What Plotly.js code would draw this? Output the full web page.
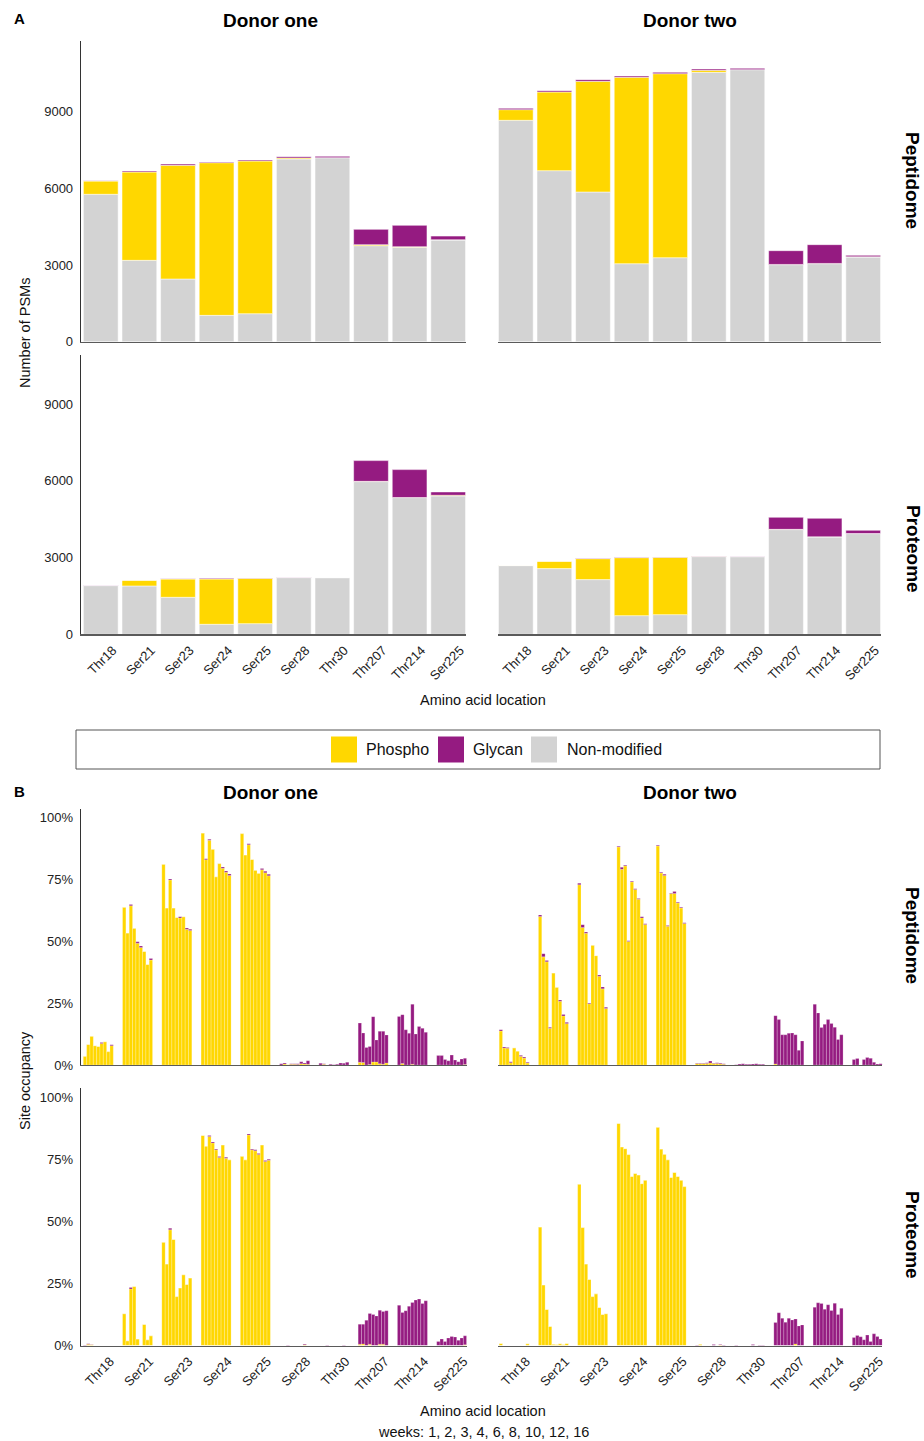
<!DOCTYPE html>
<html>
<head>
<meta charset="utf-8">
<script src="https://cdn.plot.ly/plotly-3.0.1.min.js"></script>
<style>
  html, body { margin: 0; padding: 0; background: #ffffff; }
  #chart { width: 924px; height: 1441px; }
</style>
</head>
<body>
<div id="chart"></div>
<script>
// Amino acid sites and sampling weeks
const sites = ['Thr18', 'Ser21', 'Ser23', 'Ser24', 'Ser25', 'Ser28', 'Thr30', 'Thr207', 'Thr214', 'Ser225'];
const weeks = [1, 2, 3, 4, 6, 8, 10, 12, 16];
const seriesNames = ['Phospho', 'Glycan', 'Non-modified'];

// A: number of PSMs per site
const d1PepNonmod  = [5765, 3182, 2452, 1030, 1095, 7146, 7198, 3756, 3690, 3977];
const d1PepPhospho = [521, 3455, 4446, 5972, 5973, 39, 0, 39, 26, 10];
const d1PepGlycan  = [10, 40, 52, 27, 39, 52, 52, 599, 835, 144];

const d2PepNonmod  = [8659, 6690, 5855, 3051, 3286, 10536, 10641, 3012, 3051, 3312];
const d2PepPhospho = [417, 3077, 4329, 7290, 7198, 78, 0, 10, 10, 10];
const d2PepGlycan  = [52, 52, 66, 52, 53, 53, 52, 538, 734, 55];

const d1ProtNonmod  = [1904, 1891, 1447, 391, 417, 2217, 2217, 5972, 5346, 5412];
const d1ProtPhospho = [5, 222, 718, 1774, 1774, 5, 0, 10, 5, 26];
const d1ProtGlycan  = [5, 5, 10, 26, 10, 5, 5, 812, 1091, 130];

const d2ProtNonmod  = [2686, 2569, 2139, 730, 769, 3038, 3038, 4095, 3808, 3938];
const d2ProtPhospho = [5, 287, 821, 2269, 2243, 10, 0, 10, 5, 5];
const d2ProtGlycan  = [5, 5, 10, 10, 10, 5, 10, 472, 725, 125];

// B: site occupancy (%) per site (rows) and week (columns)
const d1PepOccPhospho = [
  [3.5, 8.3, 11.6, 7.8, 7.5, 8.7, 9.4, 5.4, 7.8],
  [63.6, 53.2, 64.2, 55.1, 49.1, 47.4, 45.8, 40.5, 42.3],
  [80.9, 63.3, 74.6, 63.3, 59.5, 59.3, 59.8, 54.7, 54.2],
  [93.5, 82.8, 90.6, 87.0, 75.9, 81.2, 79.3, 77.7, 76.4],
  [93.3, 84.7, 88.8, 82.9, 78.5, 77.3, 78.7, 77.5, 76.3],
  [0, 0.4, 0.1, 0.3, 0.3, 0.2, 0.5, 0.4, 0.3],
  [0, 0.3, 0, 0, 0, 0, 0, 0, 0],
  [1.1, 1.0, 0, 0.2, 1.2, 1.2, 0.5, 0.3, 0.8],
  [0, 0.6, 0, 0, 0.3, 0, 0, 0, 0],
  [0, 0, 0, 0, 0, 0, 0, 0, 0.2]
];
const d1PepOccGlycan = [
  [0, 0, 0, 0, 0, 0.4, 0, 0, 0.4],
  [0, 0, 0.5, 0, 0.6, 0.6, 0, 0, 0.6],
  [0, 0, 0.4, 0, 0, 0.5, 0, 0.5, 0.5],
  [0, 0.4, 0.4, 0, 0, 0, 0.5, 0.5, 0.6],
  [0, 0, 0.4, 0, 0, 0, 0.5, 0.6, 0.6],
  [0.5, 0.4, 0, 0.2, 0.2, 0.3, 0.8, 0.4, 1.4],
  [0.7, 0.2, 0, 0.3, 0.1, 0.3, 0.8, 0.7, 1.1],
  [15.8, 11.9, 7.1, 7.3, 18.3, 8.9, 13.1, 13.3, 11.3],
  [19.6, 19.7, 14.2, 12.8, 24.2, 12.5, 15.5, 14.8, 13.2],
  [3.8, 3.8, 2.2, 1.7, 4.0, 2.0, 1.3, 2.4, 2.5]
];

const d2PepOccPhospho = [
  [13.7, 6.9, 6.8, 0.9, 6.9, 5.6, 3.5, 2.8, 0.8],
  [59.9, 43.6, 41.6, 14.8, 37.1, 31.3, 25.7, 19.8, 16.7],
  [72.7, 55.4, 53.1, 24.7, 48.3, 44.1, 35.8, 30.7, 22.8],
  [87.9, 78.9, 80.3, 49.8, 73.8, 70.8, 66.8, 59.3, 56.7],
  [88.3, 77.4, 76.4, 55.9, 69.1, 69.2, 65.3, 63.3, 57.1],
  [0.6, 0.6, 0.6, 0.6, 0.8, 0.6, 0.6, 0.5, 0.3],
  [0, 0, 0, 0, 0, 0, 0, 0, 0],
  [0.4, 0, 0, 0, 0, 0, 0, 0, 0],
  [0, 0, 0, 0, 0, 0, 0, 0, 0],
  [0, 0, 0, 0, 0, 0, 0, 0, 0]
];
const d2PepOccGlycan = [
  [0.5, 0.4, 0.3, 0.4, 0, 0, 0.4, 0.4, 0.3],
  [0.6, 1.3, 0.5, 0.4, 0, 0, 0.5, 0.6, 0.5],
  [0.6, 1.2, 0.5, 0.3, 0, 0, 0.5, 0.8, 0.5],
  [0.3, 0.8, 0.3, 0.3, 0.3, 0.3, 0.3, 0.5, 0.3],
  [0.3, 0.3, 0.5, 0.3, 0.3, 0.8, 0.3, 0.3, 0.3],
  [0.2, 0.2, 0.2, 0.3, 0.8, 0.2, 0.3, 0.3, 0.2],
  [0.1, 0.4, 0.5, 0.3, 0.3, 0.4, 0.5, 0.3, 0.3],
  [19.5, 18.3, 12.2, 12.2, 12.8, 12.9, 12.2, 5.9, 9.7],
  [24.5, 21.0, 15.1, 16.4, 18.3, 16.7, 15.2, 10.3, 12.2],
  [2.2, 2.6, 0, 2.2, 3.0, 2.7, 1.1, 0.4, 0.5]
];

const d1ProtOccPhospho = [
  [0, 0.5, 0.3, 0, 0, 0, 0, 0, 0],
  [12.8, 1.9, 22.8, 23.8, 2.6, 0, 8.5, 2.3, 3.9],
  [41.6, 32.8, 46.6, 42.7, 19.7, 23.2, 28.5, 24.6, 27.2],
  [84.6, 80.3, 84.2, 81.6, 78.8, 75.7, 80.8, 75.4, 74.8],
  [76.2, 74.8, 84.8, 78.8, 78.4, 76.9, 80.8, 74.1, 74.6],
  [0, 0, 0, 0, 0, 0, 0, 0.3, 0],
  [0, 0, 0, 0, 0, 0, 0, 0, 0],
  [0.5, 0.6, 0, 0.5, 0, 0, 0.5, 0.5, 0],
  [0, 0, 0, 0, 0, 0, 0, 0, 0],
  [0, 0, 0, 0, 0, 0, 0, 0, 0.3]
];
const d1ProtOccGlycan = [
  [0.2, 0.2, 0.1, 0, 0, 0, 0, 0, 0],
  [0, 0, 0.6, 0, 0, 0, 0, 0, 0],
  [0, 0, 0.6, 0, 0, 0, 0, 0, 0],
  [0, 0, 0.4, 0.4, 0.4, 0.4, 0, 0.4, 0],
  [0, 0, 0.4, 0.4, 0.4, 0.4, 0, 0.4, 0.4],
  [0, 0, 0.2, 0, 0, 0, 0, 0.3, 0],
  [0, 0, 0.2, 0, 0, 0, 0, 0.2, 0],
  [8.1, 8.0, 10.2, 12.4, 12.5, 11.9, 13.7, 13.2, 14.0],
  [16.2, 13.3, 14.0, 15.8, 17.3, 18.3, 18.7, 16.9, 18.0],
  [1.6, 2.6, 1.6, 3.0, 3.6, 3.4, 2.1, 3.0, 3.6]
];

const d2ProtOccPhospho = [
  [0.8, 0, 0, 0, 0, 0, 0, 0, 0.7],
  [47.7, 24.4, 14.5, 7.7, 0.5, 0.4, 0.7, 0.4, 0.8],
  [65.0, 47.5, 32.8, 26.6, 19.7, 20.8, 15.3, 12.5, 12.8],
  [89.4, 80.0, 79.3, 76.9, 68.1, 69.3, 68.7, 65.2, 66.6],
  [87.9, 79.1, 77.0, 74.8, 67.7, 69.7, 68.1, 66.6, 64.0],
  [0, 0.5, 0, 0, 0, 0, 0, 0.2, 0],
  [0, 0, 0, 0, 0, 0, 0, 0, 0],
  [0, 0, 0, 0, 0, 0, 0.6, 0, 0],
  [0, 0, 0, 0, 0, 0, 0, 0, 0],
  [0, 0, 0, 0, 0, 0, 0, 0, 0]
];
const d2ProtOccGlycan = [
  [0, 0, 0, 0, 0, 0, 0, 0, 0],
  [0, 0, 0, 0, 0, 0, 0, 0, 0],
  [0, 0, 0, 0, 0, 0, 0, 0, 0],
  [0, 0, 0, 0, 0, 0, 0, 0, 0],
  [0, 0, 0, 0, 0, 0, 0, 0, 0],
  [0.2, 0, 0, 0, 0, 0.4, 0, 0.2, 0.2],
  [0.2, 0, 0, 0, 0, 0.4, 0, 0.2, 0.2],
  [9.3, 13.2, 11.0, 9.4, 11.0, 10.3, 10.1, 7.9, 8.3],
  [15.4, 17.2, 16.9, 14.6, 16.4, 14.1, 17.0, 12.5, 15.0],
  [3.2, 4.0, 3.5, 2.3, 4.2, 1.6, 4.7, 3.6, 2.6]
];

// ---------- drawing ----------
const COLORS = { 'Phospho': '#FFD700', 'Glycan': '#951B81', 'Non-modified': '#D3D3D3' };
const FONT = 'Liberation Sans, Arial, Helvetica, sans-serif';
const W = 924, H = 1441;
const fx = p => p / W;          // pixel -> paper x
const fy = p => 1 - p / H;      // pixel -> paper y

const traces = [];

// Panel A: stacked PSM counts (grey at bottom, phospho, then glycan)
const countFacets = [
  { ax: '',  non: d1PepNonmod,  pho: d1PepPhospho,  gly: d1PepGlycan },
  { ax: '2', non: d2PepNonmod,  pho: d2PepPhospho,  gly: d2PepGlycan },
  { ax: '3', non: d1ProtNonmod, pho: d1ProtPhospho, gly: d1ProtGlycan },
  { ax: '4', non: d2ProtNonmod, pho: d2ProtPhospho, gly: d2ProtGlycan }
];
countFacets.forEach(f => {
  const layers = [
    { name: 'Non-modified', vals: f.non, base: f.non.map(() => 0) },
    { name: 'Phospho', vals: f.pho, base: f.non.slice() },
    { name: 'Glycan', vals: f.gly, base: f.non.map((v, i) => v + f.pho[i]) }
  ];
  layers.forEach(l => {
    traces.push({
      type: 'bar', x: sites, y: l.vals, base: l.base, name: l.name,
      xaxis: 'x' + f.ax, yaxis: 'y' + f.ax, width: 0.9,
      marker: { color: COLORS[l.name], line: { color: 'rgba(255,255,255,0.85)', width: 0.6 } },
      showlegend: false, hoverinfo: 'x+y+name'
    });
  });
});

// Panel B: one bar per week inside each site group, glycan stacked on phospho
const occFacets = [
  { ax: '5', pho: d1PepOccPhospho,  gly: d1PepOccGlycan },
  { ax: '6', pho: d2PepOccPhospho,  gly: d2PepOccGlycan },
  { ax: '7', pho: d1ProtOccPhospho, gly: d1ProtOccGlycan },
  { ax: '8', pho: d2ProtOccPhospho, gly: d2ProtOccGlycan }
];
const groupWidth = 0.764;
const barW = groupWidth / weeks.length;
occFacets.forEach(f => {
  weeks.forEach((wk, w) => {
    const pho = f.pho.map(row => row[w]);
    const gly = f.gly.map(row => row[w]);
    const off = -groupWidth / 2 + w * barW;
    traces.push({
      type: 'bar', x: sites, y: pho, base: pho.map(() => 0), name: 'Phospho, week ' + wk,
      xaxis: 'x' + f.ax, yaxis: 'y' + f.ax, width: barW, offset: off,
      marker: { color: COLORS['Phospho'], line: { color: 'rgba(255,255,255,0.55)', width: 0.4 } },
      showlegend: false, hoverinfo: 'x+y+name'
    });
    traces.push({
      type: 'bar', x: sites, y: gly, base: pho, name: 'Glycan, week ' + wk,
      xaxis: 'x' + f.ax, yaxis: 'y' + f.ax, width: barW, offset: off,
      marker: { color: COLORS['Glycan'], line: { color: 'rgba(255,255,255,0.55)', width: 0.4 } },
      showlegend: false, hoverinfo: 'x+y+name'
    });
  });
});

// axes
const tickFont = { family: FONT, size: 13, color: '#222' };
function xAx(d0, d1, r0, r1, anchor, labels) {
  return {
    domain: [fx(d0), fx(d1)], range: [r0, r1], type: 'category', anchor: anchor,
    showgrid: false, zeroline: false, showline: true, linecolor: '#5a5a5a', linewidth: 1.3,
    ticks: '', showticklabels: labels, tickangle: -45, tickfont: tickFont,
    ticklabelshift: 12, ticklabelstandoff: 2, fixedrange: true
  };
}
function yAx(top, bottom, max, tv, tt, anchor, left) {
  return {
    domain: [fy(bottom), fy(top)], range: [0, max], anchor: anchor,
    showgrid: false, zeroline: false, showline: left, linecolor: '#333', linewidth: 1,
    ticks: '', showticklabels: left, tickvals: tv, ticktext: tt, tickfont: tickFont,
    ticklabelstandoff: 4, fixedrange: true
  };
}
const cntTicks = [0, 3000, 6000, 9000];
const cntText = cntTicks.map(String);
const occTicks = [0, 25, 50, 75, 100];
const occText = occTicks.map(v => v + '%');

const layout = {
  width: W, height: H, margin: { l: 0, r: 0, t: 0, b: 0 },
  paper_bgcolor: '#ffffff', plot_bgcolor: 'rgba(0,0,0,0)',
  barmode: 'overlay', showlegend: false,
  font: { family: FONT, color: '#111' },

  xaxis:  xAx(80.7, 465.7, -0.52, 9.453, 'y', false),
  xaxis2: xAx(498.3, 880.7, -0.453, 9.453, 'y2', false),
  xaxis3: xAx(80.7, 465.7, -0.52, 9.453, 'y3', true),
  xaxis4: xAx(498.3, 880.7, -0.453, 9.453, 'y4', true),
  yaxis:  yAx(40.7, 341.7, 11773, cntTicks, cntText, 'x', true),
  yaxis2: yAx(40.7, 341.7, 11773, cntTicks, cntText, 'x2', false),
  yaxis3: yAx(355, 634.3, 10925, cntTicks, cntText, 'x3', true),
  yaxis4: yAx(355, 634.3, 10925, cntTicks, cntText, 'x4', false),

  xaxis5: xAx(80.7, 466.7, -0.448, 9.382, 'y5', false),
  xaxis6: xAx(498.3, 882.3, -0.405, 9.382, 'y6', false),
  xaxis7: xAx(80.7, 466.7, -0.448, 9.382, 'y7', true),
  xaxis8: xAx(498.3, 882.3, -0.405, 9.382, 'y8', true),
  yaxis5: yAx(809.3, 1065, 103.1, occTicks, occText, 'x5', true),
  yaxis6: yAx(809.3, 1065, 103.1, occTicks, occText, 'x6', false),
  yaxis7: yAx(1088.3, 1345.5, 103.6, occTicks, occText, 'x7', true),
  yaxis8: yAx(1088.3, 1345.5, 103.6, occTicks, occText, 'x8', false)
};

// text
const ann = [];
function txt(t, x, y, opt) {
  ann.push(Object.assign({
    text: t, x: fx(x), y: fy(y), xref: 'paper', yref: 'paper', showarrow: false,
    xanchor: 'center', yanchor: 'middle',
    font: { family: FONT, size: 14.5, color: '#111' }
  }, opt || {}));
}
const bold = s => ({ family: FONT, size: s, color: '#000', weight: 'bold' });

txt('<b>A</b>', 12, 19, { xanchor: 'left', font: bold(15) });
txt('<b>B</b>', 12, 791, { xanchor: 'left', font: bold(15) });
[20, 792].forEach(y => {
  txt('<b>Donor one</b>', 270, y, { font: bold(19) });
  txt('<b>Donor two</b>', 690, y, { font: bold(19) });
});
txt('<b>Peptidome</b>', 913, 180, { textangle: 90, font: bold(19) });
txt('<b>Proteome</b>', 913, 549, { textangle: 90, font: bold(19) });
txt('<b>Peptidome</b>', 913, 935, { textangle: 90, font: bold(19) });
txt('<b>Proteome</b>', 913, 1235, { textangle: 90, font: bold(19) });
txt('Number of PSMs', 25, 333, { textangle: -90 });
txt('Site occupancy', 25, 1081, { textangle: -90 });
txt('Amino acid location', 483, 700);
txt('Amino acid location', 483, 1411);
txt('weeks: ' + weeks.join(', '), 483, 1432);

// legend box
const shapes = [{
  type: 'rect', xref: 'paper', yref: 'paper',
  x0: fx(76), x1: fx(880), y0: fy(769), y1: fy(730),
  line: { color: '#555', width: 1 }, fillcolor: 'rgba(0,0,0,0)'
}];
const keyPos = [
  { name: 'Phospho', box: 331, text: 364 },
  { name: 'Glycan', box: 438, text: 471 },
  { name: 'Non-modified', box: 531, text: 565 }
];
seriesNames.forEach(n => {
  const k = keyPos.find(p => p.name === n);
  shapes.push({
    type: 'rect', xref: 'paper', yref: 'paper',
    x0: fx(k.box), x1: fx(k.box + 26), y0: fy(762.5), y1: fy(736.5),
    line: { width: 0 }, fillcolor: COLORS[n]
  });
  txt(n, k.text, 749.5, { xanchor: 'left', font: { family: FONT, size: 16, color: '#111' } });
});

layout.annotations = ann;
layout.shapes = shapes;

Plotly.newPlot('chart', traces, layout, { staticPlot: true, displayModeBar: false });
</script>
</body>
</html>
